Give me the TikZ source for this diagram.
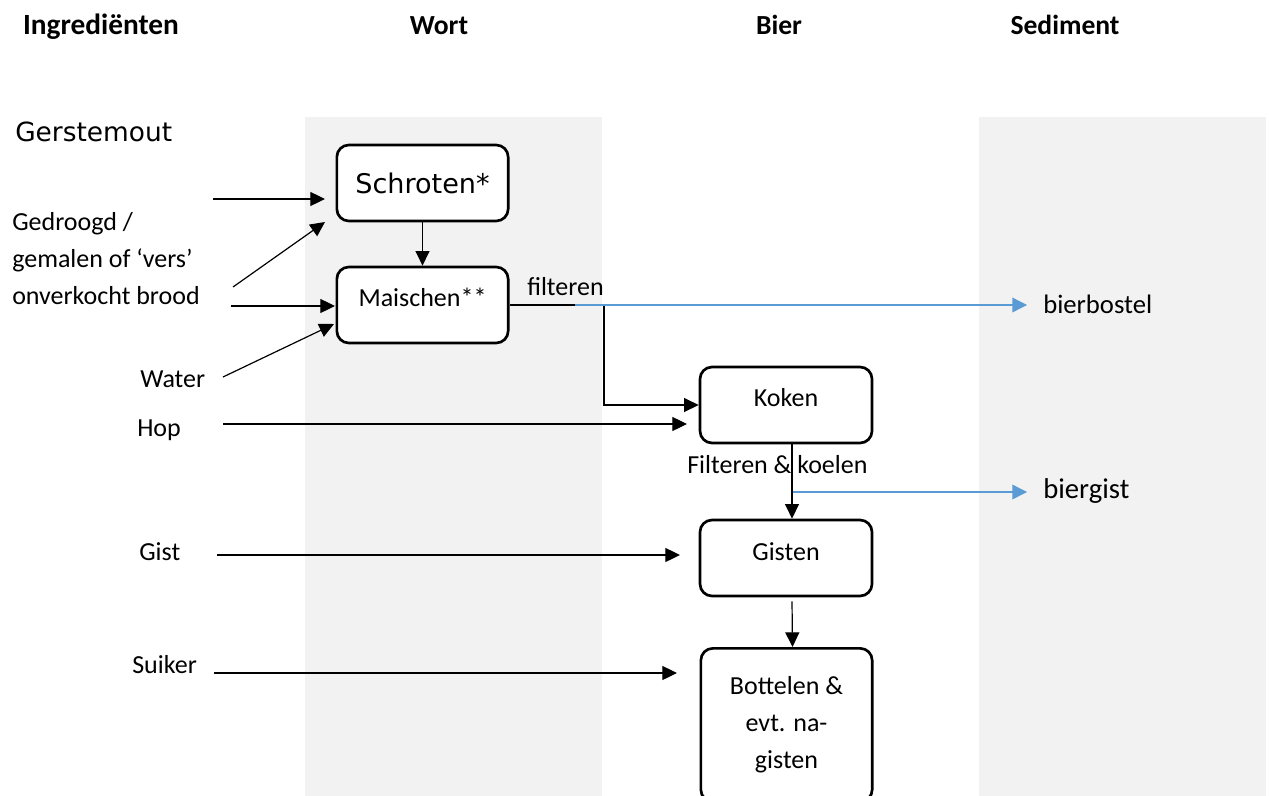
\documentclass[tikz,border=0pt]{standalone}
\usepackage{fontspec}
\setmainfont{Carlito}
\newfontfamily\dejavu{DejaVu Sans}
\usetikzlibrary{arrows.meta}
\definecolor{band}{HTML}{F2F2F2}
\definecolor{flowblue}{HTML}{5B9BD5}
\tikzset{
  box/.style={draw=black, line width=2pt, rounded corners=9pt, fill=white,
    minimum width=128.5pt, inner sep=0pt, align=center},
  arr/.style={draw=black, line width=0.9pt, -{Triangle[length=11pt,width=10.5pt]}},
  barr/.style={draw=flowblue, line width=1pt, -{Triangle[length=11pt,width=11pt]}},
  head/.style={font=\fontsize{20.7}{25}\selectfont\bfseries, anchor=base, inner sep=0pt},
  txt/.style={font=\fontsize{19.5}{27.75}\selectfont, anchor=base west, inner sep=0pt, align=left},
}
\begin{document}
\begin{tikzpicture}[x=0.75pt,y=-0.75pt]
\useasboundingbox (0,0) rectangle (1269,795);
\clip (0,0) rectangle (1269,795);
% bands
\fill[band] (305,117) rectangle (602,800);
\fill[band] (979,117) rectangle (1266,800);
% headings
\node[head, font=\fontsize{22}{25}\selectfont\bfseries] (h1) at (101,35) {Ingrediënten};
\node[head] (h2) at (439,35) {Wort};
\node[head] (h3) at (779,35) {Bier};
\node[head] (h4) at (1065,35) {Sediment};
% boxes
\node[box, minimum height=57pt, font=\dejavu\fontsize{20.3}{24}\selectfont] (schr) at (422.5,183) {Schroten*};
\node[box, minimum height=57pt, font=\fontsize{19.5}{24}\selectfont] (mai) at (422.5,305) {\raisebox{12pt}{Maischen**}};
\node[box, minimum height=57pt, minimum width=129pt, font=\fontsize{19.5}{24}\selectfont] (kok) at (786,405) {\raisebox{12pt}{Koken}};
\node[box, minimum height=57pt, minimum width=129pt, font=\fontsize{19.5}{24}\selectfont] (gis) at (786,558) {\raisebox{9pt}{Gisten}};
\node[box, minimum height=115pt, minimum width=128.5pt, font=\fontsize{19.5}{27.75}\selectfont] (bot) at (786.5,725) {Bottelen \&\\evt. na-\\gisten};
% left texts
\node[anchor=base west, inner sep=0pt, font=\dejavu\fontsize{19.8}{24}\selectfont] (gm) at (15,142) {Gerstemout};
\node[txt] (brood) at (12,304) {Gedroogd /\\gemalen of ‘vers’\\onverkocht brood};
\node[txt] (water) at (140,387) {Water};
\node[txt] (hop) at (137,436) {Hop};
\node[txt] (gist) at (139,560) {Gist};
\node[txt] (suiker) at (132,673) {Suiker};
\node[txt] (filt) at (527,295) {filteren};
\node[txt] (fk) at (687,473) {Filteren \& koelen};
\node[txt, font=\fontsize{20}{24}\selectfont] (bost) at (1043,313) {bierbostel};
\node[txt, font=\fontsize{21.5}{24}\selectfont] (bgist) at (1043,498) {biergist};
% coordinates for free ends
\coordinate (a1s) at (213,199);
\coordinate (a1e) at (325,199);
\coordinate (a2s) at (233,287);
\coordinate (a2e) at (325,222);
\coordinate (a3s) at (231,306);
\coordinate (a3e) at (335,306);
\coordinate (a4s) at (223,377);
\coordinate (a4e) at (334,324);
\coordinate (hs) at (223,424);
\coordinate (he) at (687,424);
\coordinate (gs) at (217,555);
\coordinate (ge) at (680,555);
\coordinate (ss) at (214,673);
\coordinate (se) at (677,673);
\coordinate (bl1s) at (575,305);
\coordinate (bl1e) at (1027,305);
\coordinate (bl2s) at (792.5,492);
\coordinate (bl2e) at (1027,492);
% connectors
\draw[arr] (a1s) -- (a1e);
\draw[arr] (a2s) -- (a2e);
\draw[arr] (a3s) -- (a3e);
\draw[arr] (a4s) -- (a4e);
\draw[arr] (schr.south) -- (mai.north);
\draw[arr] (mai.east) -- (604,305) |- (kok.west);
\draw[barr] (bl1s) -- (bl1e);
\draw[arr] (hs) -- (he);
\draw[arr] ([xshift=4.5pt]kok.south) -- ([xshift=4.5pt]gis.north);
\draw[barr] (bl2s) -- (bl2e);
\draw[arr] (gs) -- (ge);
\draw[arr] ([xshift=4.5pt,yshift=-3pt]gis.south) -- ([xshift=4.5pt]bot.north);
\draw[arr] (ss) -- (se);
\end{tikzpicture}
\end{document}
